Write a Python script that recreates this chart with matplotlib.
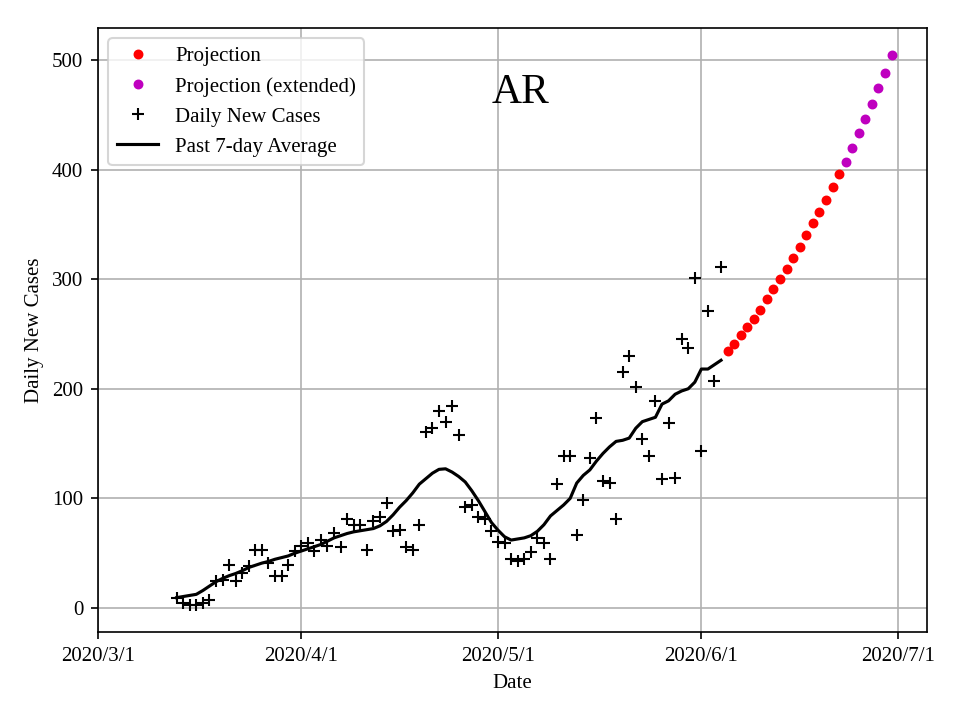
import numpy as np
import pandas as pd
import matplotlib
matplotlib.use('Agg')
import matplotlib.pyplot as plt
import matplotlib.dates as mdates

plt.rcParams['font.family'] = ['Liberation Serif', 'DejaVu Serif']

# daily new cases, 2020/3/13 .. 2020/6/4
daily_start = '2020-03-13'
daily_cases = [9, 5, 3, 3, 5, 7, 25, 26, 39, 25, 32, 38, 53, 53, 41, 29, 29, 39, 52,
               57, 59, 52, 62, 57, 68, 56, 81, 76, 76, 53, 79, 83, 96, 70, 71, 56, 53, 76,
               161, 164, 180, 170, 184, 158, 92, 94, 83, 81, 70,
               60, 59, 45, 43, 45, 51, 64, 59, 45, 113, 139, 139, 67, 99, 137, 173, 116, 114,
               81, 215, 230, 202, 154, 139, 189, 118, 169, 119, 245, 237, 301,
               143, 271, 207, 311]

# past 7-day average (smoothed), same dates
avg_7day = [9.5, 10.5, 11.5, 12.5, 16, 20, 24, 27, 29.5, 31.5, 34, 37, 39, 41, 42.5, 44.5, 46, 47.5, 50,
            52, 54, 56, 58, 61, 64, 66, 68, 69.5, 70.5, 71.5, 72.5, 75, 79, 85, 92, 98, 105, 113,
            118, 123, 126.5, 127, 124, 120, 115, 107, 98, 88, 78,
            71, 65, 62, 63, 64, 66, 70, 76, 84, 89, 94, 100, 114, 121, 126, 134, 141, 147,
            152, 153, 155, 164, 170, 172, 174, 186, 189, 195, 198, 200, 206,
            218, 218, 222, 226]

# projection, 2020/6/5 .. 2020/6/22
proj_start = '2020-06-05'
projection = [234, 241, 249, 256, 264, 272, 282, 291, 300, 309, 319, 329, 340, 351, 361, 372, 384, 396]

# extended projection, 2020/6/23 .. 2020/6/30
ext_start = '2020-06-23'
projection_ext = [407, 420, 433, 446, 460, 474, 488, 504]

dates = pd.date_range(daily_start, periods=len(daily_cases), freq='D')
proj_dates = pd.date_range(proj_start, periods=len(projection), freq='D')
ext_dates = pd.date_range(ext_start, periods=len(projection_ext), freq='D')

fig = plt.figure(figsize=(6.4, 4.8), dpi=150)
ax = fig.add_subplot(1, 1, 1)
fig.subplots_adjust(left=0.102, right=0.966, top=0.961, bottom=0.122)

ax.plot(proj_dates, projection, 'r.', markersize=7.5, label='Projection')
ax.plot(ext_dates, projection_ext, 'm.', markersize=7.5, label='Projection (extended)')
ax.plot(dates, daily_cases, 'k+', label='Daily New Cases')
ax.plot(dates, avg_7day, 'k-', label='Past 7-day Average')

ax.set_xlim(pd.Timestamp('2020-03-01'), pd.Timestamp('2020-07-05 11:00'))
ax.set_ylim(-22, 529)
ax.xaxis.set_major_locator(mdates.MonthLocator())
ax.xaxis.set_major_formatter(mdates.DateFormatter('%Y/%-m/%-d'))
ax.set_yticks([0, 100, 200, 300, 400, 500])
ax.grid(True)
ax.set_xlabel('Date')
ax.set_ylabel('Daily New Cases')
ax.text(0.509, 0.893, 'AR', transform=ax.transAxes, fontsize=20, ha='center', va='center')
ax.legend(loc='upper left')

fig.savefig('out.png')
